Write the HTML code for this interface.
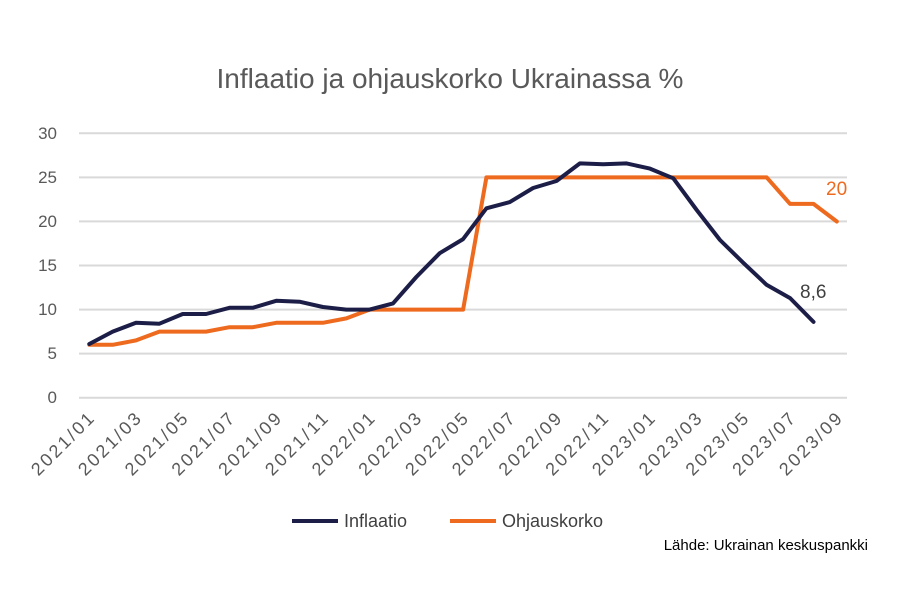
<!DOCTYPE html>
<html><head><meta charset="utf-8"><style>
body{margin:0;background:#fff;}
svg{display:block;font-family:"Liberation Sans",sans-serif;}
</style></head><body>
<svg width="900" height="600" viewBox="0 0 900 600" xmlns="http://www.w3.org/2000/svg">
<rect width="900" height="600" fill="#fff"/>
<text x="450" y="88" text-anchor="middle" font-size="28" fill="#595959">Inflaatio ja ohjauskorko Ukrainassa %</text>
<g stroke="#d9d9d9" stroke-width="2">
<line x1="79" x2="847" y1="133.3" y2="133.3"/>
<line x1="79" x2="847" y1="177.4" y2="177.4"/>
<line x1="79" x2="847" y1="221.4" y2="221.4"/>
<line x1="79" x2="847" y1="265.5" y2="265.5"/>
<line x1="79" x2="847" y1="309.6" y2="309.6"/>
<line x1="79" x2="847" y1="353.6" y2="353.6"/>
<line x1="79" x2="847" y1="397.7" y2="397.7"/>
</g>
<g font-size="17" fill="#595959" text-anchor="end">
<text x="57" y="139">30</text><text x="57" y="183">25</text><text x="57" y="227">20</text>
<text x="57" y="271">15</text><text x="57" y="315">10</text><text x="57" y="359">5</text><text x="57" y="403">0</text>
</g>
<g font-size="18" fill="#595959" text-anchor="end">
<text transform="translate(95,420) rotate(-45)" textLength="80">2021/01</text>
<text transform="translate(142,420) rotate(-45)" textLength="80">2021/03</text>
<text transform="translate(188.7,420) rotate(-45)" textLength="80">2021/05</text>
<text transform="translate(235.5,420) rotate(-45)" textLength="80">2021/07</text>
<text transform="translate(282.2,420) rotate(-45)" textLength="80">2021/09</text>
<text transform="translate(329,420) rotate(-45)" textLength="80">2021/11</text>
<text transform="translate(375.7,420) rotate(-45)" textLength="80">2022/01</text>
<text transform="translate(422.3,420) rotate(-45)" textLength="80">2022/03</text>
<text transform="translate(469.1,420) rotate(-45)" textLength="80">2022/05</text>
<text transform="translate(515.8,420) rotate(-45)" textLength="80">2022/07</text>
<text transform="translate(562.5,420) rotate(-45)" textLength="80">2022/09</text>
<text transform="translate(609.3,420) rotate(-45)" textLength="80">2022/11</text>
<text transform="translate(656,420) rotate(-45)" textLength="80">2023/01</text>
<text transform="translate(702.7,420) rotate(-45)" textLength="80">2023/03</text>
<text transform="translate(749.4,420) rotate(-45)" textLength="80">2023/05</text>
<text transform="translate(796.2,420) rotate(-45)" textLength="80">2023/07</text>
<text transform="translate(842.9,420) rotate(-45)" textLength="80">2023/09</text>
</g>
<polyline id="pr" fill="none" stroke="#ed6a1f" stroke-width="4" stroke-linejoin="round" stroke-linecap="round"/>
<polyline id="inf" fill="none" stroke="#1c1e47" stroke-width="4" stroke-linejoin="round" stroke-linecap="round"/>
<text x="826" y="195" font-size="19" fill="#ed6a1f">20</text>
<text x="800" y="298" font-size="19" fill="#404040">8,6</text>
<line x1="292" x2="338" y1="521" y2="521" stroke="#1c1e47" stroke-width="4"/>
<text x="344" y="527" font-size="18" fill="#404040">Inflaatio</text>
<line x1="450" x2="496" y1="521" y2="521" stroke="#ed6a1f" stroke-width="4"/>
<text x="502" y="527" font-size="18" fill="#404040">Ohjauskorko</text>
<text x="868" y="550" font-size="15" fill="#000" text-anchor="end">Lähde: Ukrainan keskuspankki</text>
<script>
var inf=[6.1,7.5,8.5,8.4,9.5,9.5,10.2,10.2,11.0,10.9,10.3,10.0,10.0,10.7,13.7,16.4,18.0,21.5,22.2,23.8,24.6,26.6,26.5,26.6,26.0,24.9,21.3,17.9,15.3,12.8,11.3,8.6];
var pr=[6,6,6.5,7.5,7.5,7.5,8,8,8.5,8.5,8.5,9,10,10,10,10,10,25,25,25,25,25,25,25,25,25,25,25,25,25,22,22,20];
function X(i){return 89.3+i*23.36;}function Y(v){return 397.7-v*8.81;}
function pts(a){return a.map(function(v,i){return X(i).toFixed(1)+","+Y(v).toFixed(1)}).join(" ");}
document.getElementById("inf").setAttribute("points",pts(inf));
document.getElementById("pr").setAttribute("points",pts(pr));
</script>
</svg>
</body></html>
